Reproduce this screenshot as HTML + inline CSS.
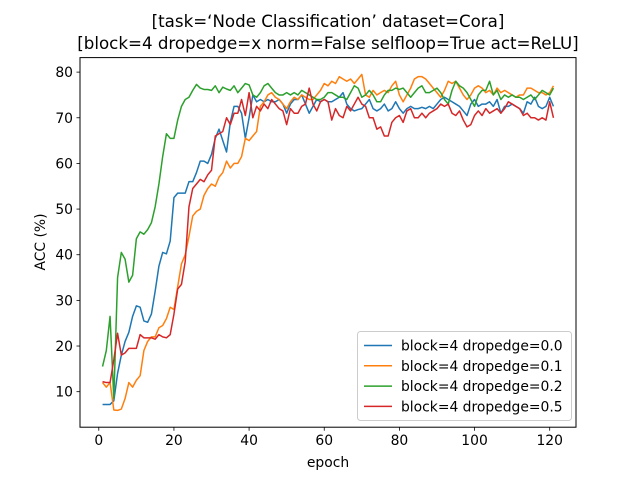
<!DOCTYPE html>
<html><head><meta charset="utf-8"><style>
body{margin:0;background:#fff}
svg{font-family:"DejaVu Sans","Liberation Sans",sans-serif}
</style></head><body>
<svg id="chart" width="640" height="480" viewBox="0 0 640 480" xmlns="http://www.w3.org/2000/svg">
<rect width="640" height="480" fill="#fff"/>
<text x="328" y="27" font-size="16.67" text-anchor="middle">[task=‘Node Classification’ dataset=Cora]</text>
<text x="328" y="49" font-size="16.67" text-anchor="middle">[block=4 dropedge=x norm=False selfloop=True act=ReLU]</text>
<g id="plot"></g>
<rect x="80" y="57.6" width="496" height="369.6" fill="none" stroke="#000" stroke-width="1"/>
<text x="328" y="467" font-size="13.89" text-anchor="middle">epoch</text>
<text transform="translate(45,242) rotate(-90)" font-size="13.89" text-anchor="middle">ACC (%)</text>
<g id="legend"></g>
</svg>
<script>
const epochs = Array.from({length:121},(_,i)=>i+1);
const seriesNames = ["block=4 dropedge=0.0","block=4 dropedge=0.1","block=4 dropedge=0.2","block=4 dropedge=0.5"];
const colors = ["#1f77b4","#ff7f0e","#2ca02c","#d62728"];
const blueVals = [7.2,7.2,7.2,8,14,18,21,23,26.5,28.8,28.5,25.5,25.2,27,32,37.5,40.5,40.2,43,52.5,53.5,53.5,53.5,56,56,58,60.5,60.5,60,62,65.5,67.5,65,62.5,69,72.5,72.5,71,65.5,70,75,73.5,74,73.5,74,73.5,73.5,74,73,71,73,74,74,75,73,71,72.5,74,73.5,74,73.5,73.5,74,74.5,75.5,73,72,71.5,71.8,72,73,74,72,71.5,72,73,71.5,72,73.5,72,71,72,72.5,72,72,72.3,72,72.5,72,73,74,74.5,74,73.5,73,72.5,71.5,70.5,73,74,72.5,73,73,73.5,72.5,74,71,72.5,72.5,73,72.5,72,71,73.5,73,74.5,72.5,72,72.5,74.5,72.5];
const orangeVals = [12,11,12,6,5.9,6.2,8.5,12,11,12.5,13.5,19,21,22,22,24,24.5,26,28.5,28,33,38,40,44,48.5,49.5,50,53,54.5,55.5,55,57,58,60.5,59,60,60,61.5,65.5,65,66,67,72.5,73.5,75,75.5,74.5,74,73,72,73.5,74.5,74,75,74.5,74,74,75,76,77.5,77,78,77.5,79,78.5,78,78.5,77.5,78.5,79.5,75,74.5,76,75,75.5,76,75.5,77,78,75,73.5,75,76.5,78.5,79,79,78.5,77.5,76.5,75.5,74.5,76,78,77.5,78,76.5,75,74,75,76.5,77,76.5,75.5,76,75,76.5,75.5,76,75.5,75,74.5,75,75,76.5,76.5,76,75.5,75.5,75,75.5,77];
const greenVals = [15.5,19,26.5,8.5,35,40.5,39,34,35.5,43.5,45,44.5,45.5,47,50.5,55.5,61.5,66.5,65.5,65.5,69.5,72.5,74,74.5,76,77.3,76.5,76.2,76.2,76,77,75.5,76.7,76.3,76,77,75.5,76.5,77.5,77.2,75,74.5,75.5,77,77.5,76.5,75.5,75,75,75.5,75,75.5,75,76,75.5,75,74.5,74,74,74.5,75.5,75.5,75,74.5,74.5,74,75.5,77,76.5,74.5,75,76,75,73.5,73.5,75,76,76,76.5,76.2,76.5,75.5,74.5,75.5,76.5,77,75.5,75.5,76,76.5,75.5,74,73,76,78,77,76.5,75.5,74,72.5,75,76,76,78,75,76,74,75,74.5,75,74.5,74.5,74,74.5,75,74,75,76,75.5,75,76.5];
const redVals = [12.2,12,12,17,22.8,18,18.5,19.5,19.5,19.5,22.5,21.8,21.8,21.8,21.5,22.5,22,21.8,22.5,27,32.5,33.5,38.5,50.5,54.5,55.5,56.5,56,57.5,58.5,66,66.5,67,70,68.5,71,71,74,70.5,75.5,70,72.5,71.5,73,72,74,73,72,71.5,68.5,72,71,71,72.5,73,76.5,73,71.5,73.5,74,73.5,69.5,72,70.5,70,72.5,71.5,73,74.5,73,72.5,70,70,67.5,68,66,66,69,70,70.5,69,71.5,72,70,70,71,70,71,71.5,72,73,72.5,73,71,70.5,71.5,69.5,68,68.5,70.5,71.5,70.5,72,71,71.5,72,71,72,73.5,73,72.5,72,70.5,71,70,70,69.5,70,69.5,73.5,70];
const xTicks = [0,20,40,60,80,100,120];
const yTicks = [10,20,30,40,50,60,70,80];
const allSeries = [blueVals, orangeVals, greenVals, redVals];

const NS="http://www.w3.org/2000/svg";
const L=80,R=576,T=57.6,B=427.2;
const xmin=epochs[0],xmax=epochs[epochs.length-1];
const xpad=(xmax-xmin)*0.05;
const allv=[].concat(...allSeries);
const vmin=Math.min(...allv),vmax=Math.max(...allv),ypad=(vmax-vmin)*0.05;
const x=v=>L+(v-(xmin-xpad))/((xmax+xpad)-(xmin-xpad))*(R-L);
const y=v=>B-(v-(vmin-ypad))/((vmax+ypad)-(vmin-ypad))*(B-T);
const plot=document.getElementById('plot');
function mk(tag,attrs,parent){const e=document.createElementNS(NS,tag);for(const k in attrs)e.setAttribute(k,attrs[k]);parent.appendChild(e);return e;}
xTicks.forEach(t=>{
  const g=mk('g',{},plot);
  
  
  mk('line',{x1:x(t),x2:x(t),y1:B,y2:B+3.5,stroke:'#000','stroke-width':0.8},g);
  const tx=mk('text',{x:x(t),y:B+18,'font-size':13.89,'text-anchor':'middle'},g);tx.textContent=t;
});
yTicks.forEach(t=>{
  const g=mk('g',{},plot);
  
  
  mk('line',{x1:L-3.5,x2:L,y1:y(t),y2:y(t),stroke:'#000','stroke-width':0.8},g);
  const tx=mk('text',{x:L-7,y:y(t)+5,'font-size':13.89,'text-anchor':'end'},g);tx.textContent=t;
});
allSeries.forEach((vals,si)=>{
  const p=mk('polyline',{fill:'none',stroke:colors[si],'stroke-width':1.5,'stroke-linejoin':'round',points:vals.map((v,i)=>x(epochs[i])+','+y(v)).join(' ')},plot);
  
  
});
const lg=document.getElementById('legend');
mk('rect',{x:357.5,y:331.5,width:214,height:89,rx:3,fill:'#fff','fill-opacity':0.8,stroke:'#ccc'},lg);
seriesNames.forEach((n,i)=>{
  const g=mk('g',{},lg);
  
  
  const yy=345.5+i*20.3;
  mk('line',{x1:364,x2:392,y1:yy,y2:yy,stroke:colors[i],'stroke-width':1.5},g);
  const t=mk('text',{x:401,y:yy+5,'font-size':13.89},g);t.textContent=n;
});
</script>
</body></html>
